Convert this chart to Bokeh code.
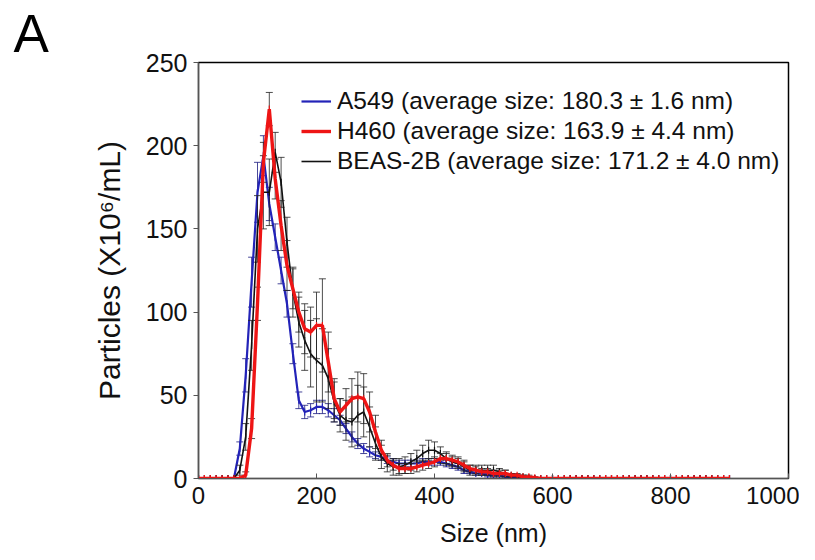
import numpy as np
from bokeh.plotting import figure
from bokeh.models import (ColumnDataSource, Legend, LegendItem, Title, Range1d,
                          FixedTicker)
from bokeh.embed import file_html
from bokeh.resources import INLINE

# ---------------- data ----------------
size_nm = list(range(0, 910, 10))

a549 = [0, 0, 0, 0, 0, 0, 0,
        18, 62, 118, 172, 194, 165, 145, 125, 105, 75, 47, 40, 41, 43, 43,
        41, 38, 35, 30, 25, 21, 18, 16, 14, 13, 11, 10, 9, 9, 9, 9, 10, 10,
        10, 10, 9, 8, 7, 5, 4, 3, 3, 2, 2, 2, 1, 1, 1, 0.5,
        0, 0, 0, 0, 0, 0, 0, 0, 0, 0, 0, 0, 0, 0, 0, 0, 0, 0, 0, 0, 0, 0, 0,
        0, 0, 0, 0, 0, 0, 0, 0, 0, 0, 0, 0]
a549_err = [0, 0, 0, 0, 0, 0, 0,
            4, 10, 15, 18, 12, 10, 8, 8, 8, 6, 5, 4, 4, 4, 4,
            4, 4, 3, 3, 3, 3, 3, 3, 2, 2, 2, 2, 2, 2, 2, 2, 2, 2,
            2, 2, 2, 2, 2, 2, 1, 1, 1, 1, 1, 1, 1, 1, 1, 0.5,
            0, 0, 0, 0, 0, 0, 0, 0, 0, 0, 0, 0, 0, 0, 0, 0, 0, 0, 0, 0, 0, 0, 0,
            0, 0, 0, 0, 0, 0, 0, 0, 0, 0, 0, 0]

h460 = [0, 0, 0, 0, 0, 0, 0, 0,
        2, 30, 105, 190, 222, 180, 152, 128, 114, 100, 90, 88, 92, 92, 70,
        48, 40, 44, 48, 49, 48, 40, 28, 17, 11, 8, 6, 6, 6, 7, 8, 9, 10, 12,
        12, 11, 10, 8, 6, 5, 4, 4, 3, 3, 3, 2, 2, 1, 1, 0.5,
        0, 0, 0, 0, 0, 0, 0, 0, 0, 0, 0, 0, 0, 0, 0, 0, 0, 0, 0, 0, 0, 0, 0,
        0, 0, 0, 0, 0, 0, 0, 0, 0, 0]
h460_err = [0, 0, 0, 0, 0, 0, 0, 0,
            2, 6, 10, 12, 10, 12, 15, 15, 12, 12, 15, 15, 20, 28, 18,
            12, 8, 10, 12, 15, 15, 12, 10, 6, 4, 3, 3, 3, 3, 3, 3, 3, 3, 3,
            3, 3, 3, 3, 2, 2, 2, 2, 2, 2, 2, 1, 1, 1, 1, 0.5,
            0, 0, 0, 0, 0, 0, 0, 0, 0, 0, 0, 0, 0, 0, 0, 0, 0, 0, 0, 0, 0, 0, 0,
            0, 0, 0, 0, 0, 0, 0, 0, 0, 0]

beas2b = [0, 0, 0, 0, 0, 0, 0,
          5, 25, 80, 150, 172, 172, 196, 178, 142, 112, 94, 83, 75, 71, 68,
          60, 46, 38, 35, 34, 38, 40, 31, 21, 13, 9, 7, 7, 8, 10, 12, 15, 17,
          17, 15, 12, 10, 9, 7, 5, 5, 5, 5, 5, 4, 3, 2, 1, 1, 0.5,
          0, 0, 0, 0, 0, 0, 0, 0, 0, 0, 0, 0, 0, 0, 0, 0, 0, 0, 0, 0, 0, 0, 0,
          0, 0, 0, 0, 0, 0, 0, 0, 0, 0, 0]
beas2b_err = [0, 0, 0, 0, 0, 0, 0,
              3, 8, 15, 20, 22, 20, 12, 15, 15, 15, 15, 18, 20, 25, 22,
              18, 12, 10, 12, 15, 18, 15, 12, 10, 7, 5, 5, 5, 5, 5, 5, 5, 6,
              5, 4, 4, 3, 3, 3, 3, 3, 3, 3, 3, 2, 2, 1, 1, 1, 0.5,
              0, 0, 0, 0, 0, 0, 0, 0, 0, 0, 0, 0, 0, 0, 0, 0, 0, 0, 0, 0, 0, 0, 0,
              0, 0, 0, 0, 0, 0, 0, 0, 0, 0, 0]

labels = ["A549 (average size: 180.3 \u00b1 1.6 nm)",
          "H460 (average size: 163.9 \u00b1 4.4 nm)",
          "BEAS-2B (average size: 171.2 \u00b1 4.0 nm)"]
x_ticks = [0, 200, 400, 600, 800, 1000]
y_ticks = [0, 50, 100, 150, 200, 250]

FONT = "Liberation Sans"

p = figure(width=799, height=552, output_backend="svg", toolbar_location=None,
           x_range=Range1d(0, 1000), y_range=Range1d(0, 250),
           min_border_left=198, min_border_right=11, min_border_top=62,
           min_border_bottom=74)

p.title = Title(text="A", align="left", offset=-185, standoff=0,
                text_font=FONT, text_font_size="53px", text_line_height=1.0,
                text_font_style="normal", text_color="black",
                vertical_align="bottom")

p.xgrid.visible = False
p.ygrid.visible = False
p.outline_line_color = "black"
p.outline_line_width = 1.5
p.background_fill_color = "white"
p.border_fill_color = "white"

for ax in (p.xaxis[0], p.yaxis[0]):
    ax.axis_line_color = "#555555"
    ax.axis_line_width = 1.2
    ax.major_tick_line_color = "#555555"
    ax.minor_tick_line_color = None
    ax.major_label_text_font = FONT
    ax.axis_label_text_font = FONT
    ax.axis_label_text_font_style = "normal"
    ax.major_label_text_color = "#111111"
    ax.axis_label_text_color = "#111111"

p.xaxis.ticker = FixedTicker(ticks=x_ticks)
p.yaxis.ticker = FixedTicker(ticks=y_ticks)
p.xaxis.major_tick_in = 5
p.xaxis.major_tick_out = 0
p.yaxis.major_tick_in = 0
p.yaxis.major_tick_out = 5
p.xaxis.major_label_text_font_size = "24px"
p.yaxis.major_label_text_font_size = "25px"
p.xaxis.axis_label = "Size (nm)"
p.yaxis.axis_label = "Particles (X10\u2076/mL)"
p.xaxis.axis_label_text_font_size = "25px"
p.yaxis.axis_label_text_font_size = "30px"
p.xaxis.major_label_standoff = 8
p.yaxis.major_label_standoff = 6
p.xaxis.axis_label_standoff = 12
p.yaxis.axis_label_standoff = 17

series = [
    (a549, a549_err, "#2323b8", 2.2),
    (beas2b, beas2b_err, "#111111", 1.6),
    (h460, h460_err, "#ee1515", 3.4),
]
renderers = {}
for vals, errs, col, lw in series:
    v = np.array(vals, dtype=float)
    e = np.array(errs, dtype=float)
    src = ColumnDataSource(dict(x=size_nm, y=v, lo=v - e, hi=v + e))
    ecol = "#222222" if col != "#2323b8" else "#1a1a80"
    p.segment(x0="x", y0="lo", x1="x", y1="hi", source=src,
              line_color=ecol, line_width=1, line_alpha=0.8)
    p.scatter(x="x", y="lo", source=src, marker="dash", size=7,
              line_color=ecol, line_width=1, line_alpha=0.8)
    p.scatter(x="x", y="hi", source=src, marker="dash", size=7,
              line_color=ecol, line_width=1, line_alpha=0.8)
    r = p.line(x="x", y="y", source=src, line_color=col, line_width=lw)
    p.scatter(x="x", y="y", source=src, marker="dash", angle=np.pi / 2,
              size=7, line_color=col, line_width=1.2)
    renderers[col] = r

legend = Legend(items=[
    LegendItem(label=labels[0], renderers=[renderers["#2323b8"]]),
    LegendItem(label=labels[1], renderers=[renderers["#ee1515"]]),
    LegendItem(label=labels[2], renderers=[renderers["#111111"]]),
], location=(103, 302), border_line_alpha=0, background_fill_alpha=0,
    padding=0, margin=0, spacing=0, glyph_width=30, glyph_height=30,
    label_height=30, label_standoff=6, label_text_font_size="24.5px",
    label_text_font=FONT, label_text_color="#111111")
p.add_layout(legend)

open("out.html", "w").write(file_html(p, INLINE))
